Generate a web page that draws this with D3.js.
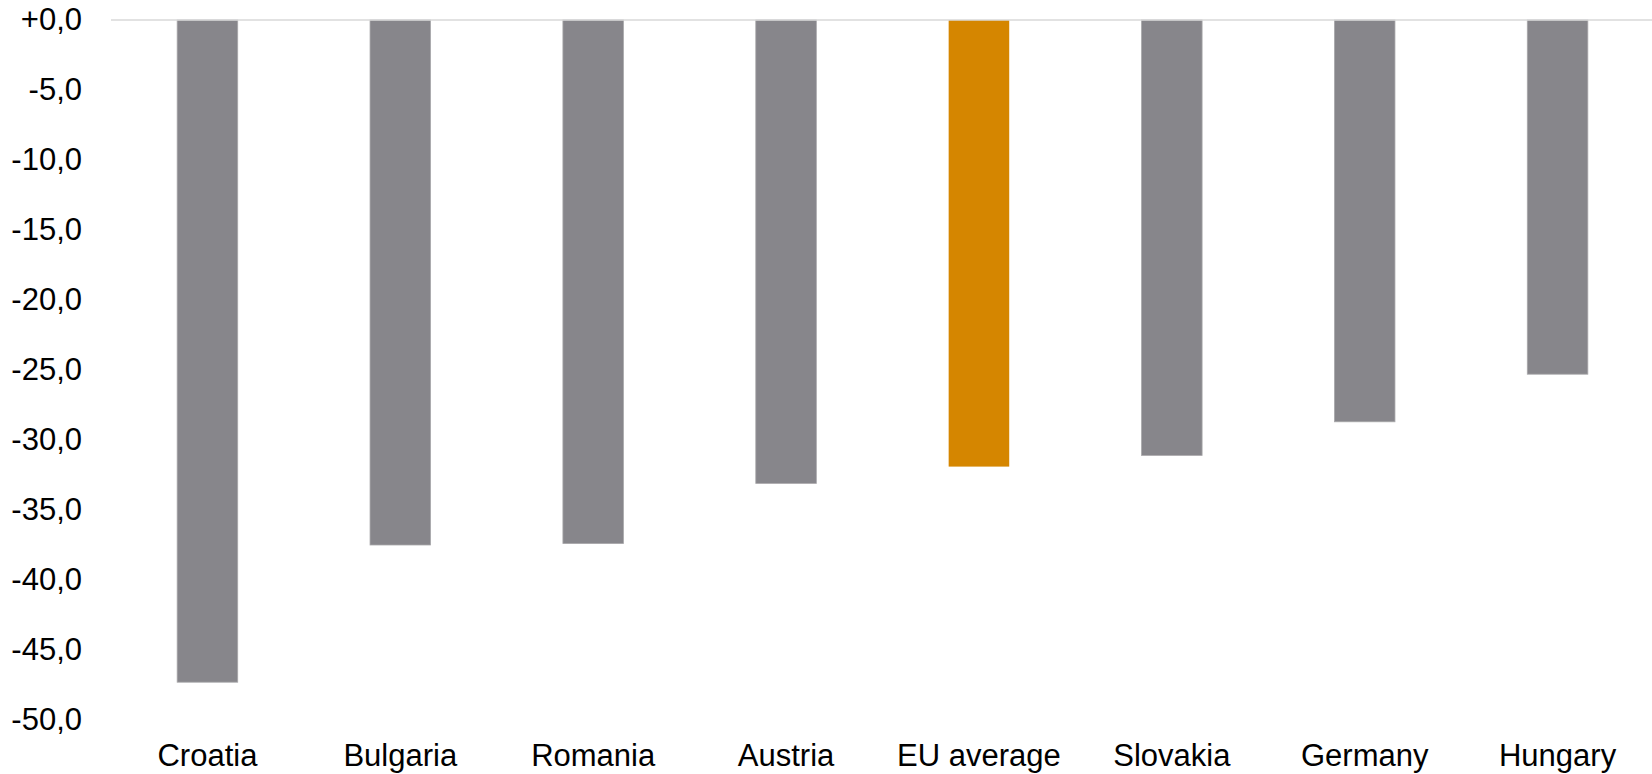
<!DOCTYPE html>
<html>
<head>
<meta charset="utf-8">
<script src="https://cdn.jsdelivr.net/npm/d3@7"></script>
<style>
  html, body { margin: 0; padding: 0; background: #ffffff; }
  svg { display: block; font-family: "Liberation Sans", Arial, sans-serif; }
</style>
</head>
<body>
<svg id="chart" width="1652" height="774"></svg>
<script>
// Countries in display order
const countries = ["Croatia", "Bulgaria", "Romania", "Austria", "EU average", "Slovakia", "Germany", "Hungary"];
// Change in value (percentage points)
const changes = [-47.3, -37.5, -37.4, -33.1, -31.9, -31.1, -28.7, -25.3];
// Which entry is the highlighted aggregate
const highlight = "EU average";
// Y axis ticks and their labels
const yTicks = [0, -5, -10, -15, -20, -25, -30, -35, -40, -45, -50];
const yTickLabels = ["+0,0", "-5,0", "-10,0", "-15,0", "-20,0", "-25,0", "-30,0", "-35,0", "-40,0", "-45,0", "-50,0"];

const svg = d3.select("#chart");
const W = 1652, H = 774;
const plot = { left: 111, right: 1654, top: 20, bottom: 720 };

const x = d3.scaleBand()
  .domain(countries)
  .range([plot.left, plot.right])
  .paddingInner(0.686)
  .paddingOuter(0.343);

const y = d3.scaleLinear()
  .domain([0, -50])
  .range([plot.top, plot.bottom]);

// Bars hang down from the zero line
svg.append("g")
  .selectAll("rect")
  .data(countries)
  .join("rect")
  .attr("x", d => x(d))
  .attr("y", y(0))
  .attr("width", x.bandwidth())
  .attr("height", (d, i) => y(changes[i]) - y(0))
  .attr("fill", d => d === highlight ? "#d58600" : "#87868b")
  .attr("stroke", d => d === highlight ? "none" : "#a9a8ab")
  .attr("stroke-width", 0.8);

// Zero reference line
svg.append("line")
  .attr("x1", plot.left)
  .attr("x2", W)
  .attr("y1", y(0))
  .attr("y2", y(0))
  .attr("stroke", "#d9d9d9")
  .attr("stroke-width", 1.5);

// Y axis labels
const yAxis = d3.axisLeft(y)
  .tickValues(yTicks)
  .tickFormat((d, i) => yTickLabels[i])
  .tickSize(0)
  .tickPadding(0);

svg.append("g")
  .attr("transform", "translate(82,0)")
  .call(yAxis)
  .call(g => g.select(".domain").remove())
  .call(g => g.selectAll("text")
    .attr("font-family", "Liberation Sans, Arial, sans-serif")
    .attr("font-size", 31)
    .attr("fill", "#000000"));

// Category labels along the bottom
const xAxis = d3.axisBottom(x).tickSize(0).tickPadding(0);
svg.append("g")
  .attr("transform", "translate(0,744)")
  .call(xAxis)
  .call(g => g.select(".domain").remove())
  .call(g => g.selectAll("text")
    .attr("font-family", "Liberation Sans, Arial, sans-serif")
    .attr("font-size", 31)
    .attr("fill", "#000000"));
</script>
</body>
</html>
